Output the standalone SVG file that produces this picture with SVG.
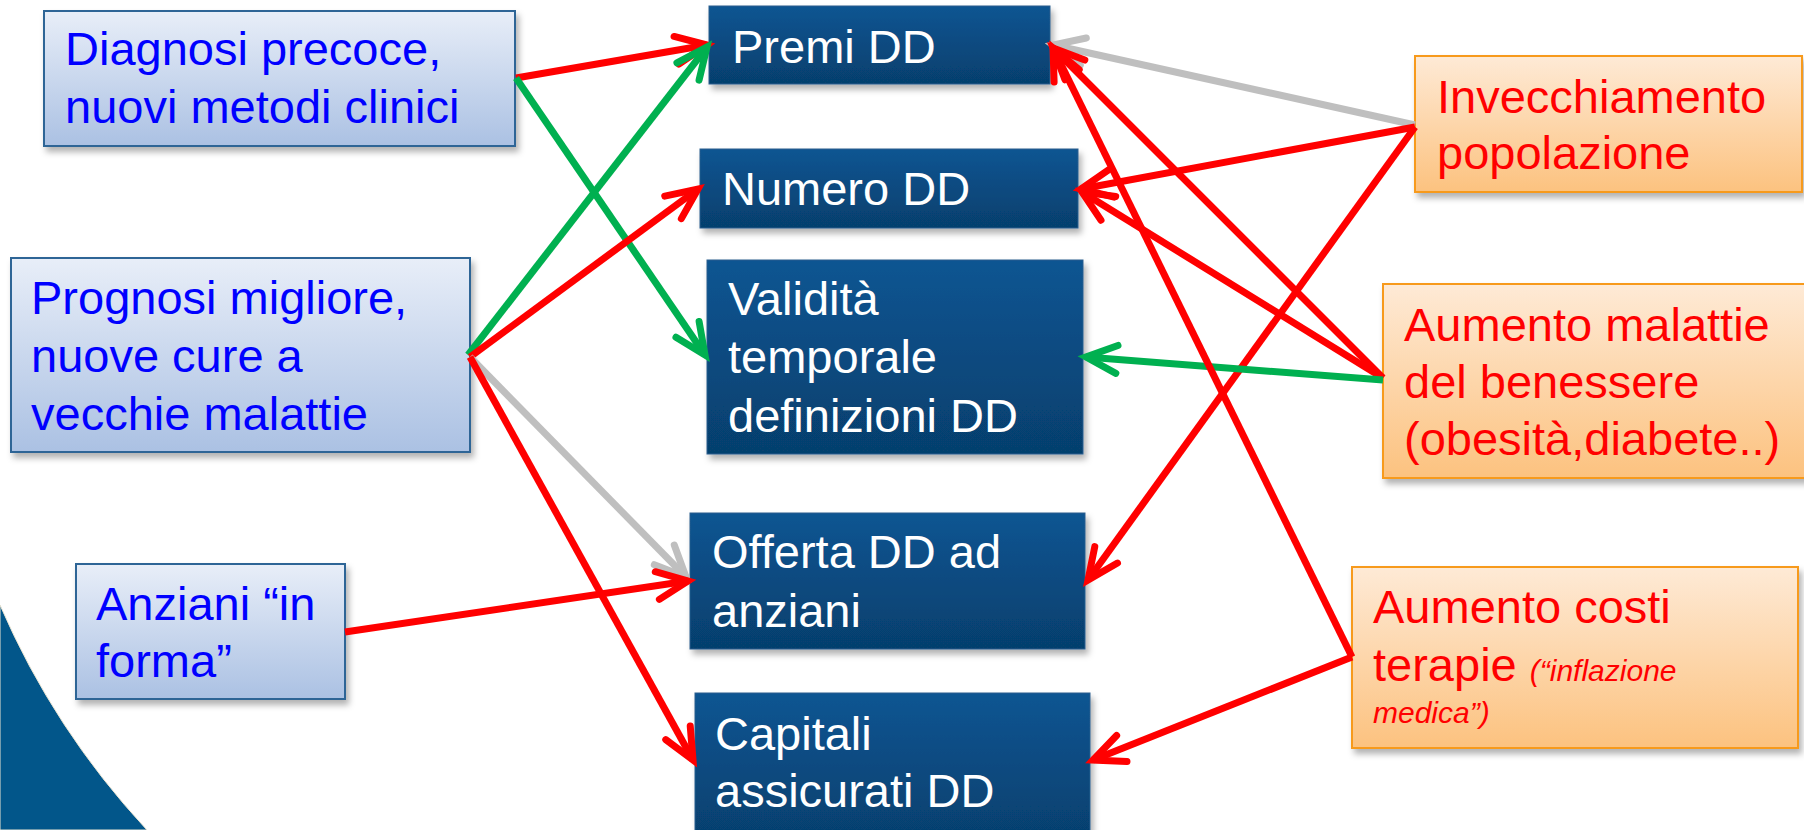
<svg xmlns="http://www.w3.org/2000/svg" width="1804" height="830" viewBox="0 0 1804 830">
<defs>
<linearGradient id="gBlue" x1="0" y1="0" x2="0" y2="1"><stop offset="0" stop-color="#E8EEF8"/><stop offset="1" stop-color="#ABC1E3"/></linearGradient>
<linearGradient id="gDark" x1="0" y1="0" x2="0" y2="1"><stop offset="0" stop-color="#0A5592"/><stop offset="1" stop-color="#063F6D"/></linearGradient>
<linearGradient id="gOrange" x1="0" y1="0" x2="0" y2="1"><stop offset="0" stop-color="#FEEAD6"/><stop offset="1" stop-color="#FCC27F"/></linearGradient>
<filter id="sh" x="-10%" y="-10%" width="125%" height="135%"><feDropShadow dx="3" dy="5" stdDeviation="3" flood-color="#000" flood-opacity="0.3"/></filter>
<marker id="aRed" markerUnits="userSpaceOnUse" markerWidth="80" markerHeight="80" viewBox="-40 -40 80 80" refX="0" refY="0" orient="auto"><path d="M-31,-14 L0,0 L-31,14" fill="none" stroke="#FF0000" stroke-width="7" stroke-linecap="round"/></marker>
<marker id="aGreen" markerUnits="userSpaceOnUse" markerWidth="80" markerHeight="80" viewBox="-40 -40 80 80" refX="0" refY="0" orient="auto"><path d="M-31,-14 L0,0 L-31,14" fill="none" stroke="#00B050" stroke-width="7" stroke-linecap="round"/></marker>
<marker id="aGray" markerUnits="userSpaceOnUse" markerWidth="80" markerHeight="80" viewBox="-40 -40 80 80" refX="0" refY="0" orient="auto"><path d="M-31,-14 L0,0 L-31,14" fill="none" stroke="#BFBFBF" stroke-width="7" stroke-linecap="round"/></marker>
<style>
text{font-family:"Liberation Sans",Arial,sans-serif;font-size:47px}
.lb rect{fill:url(#gBlue);stroke:#2E6596;stroke-width:2;filter:url(#sh)}
.lb text{fill:#0000FF}
.dk rect{fill:url(#gDark);stroke:#2A5F8E;stroke-width:1;filter:url(#sh)}
.dk text{fill:#FFFFFF}
.or rect{fill:url(#gOrange);stroke:#F79A1E;stroke-width:2;filter:url(#sh)}
.or text{fill:#FF0000}
.sm{font-size:30px;font-style:italic}
#connectors line{stroke-width:7;fill:none}
.r{stroke:#FF0000;marker-end:url(#aRed)}
.g{stroke:#00B050;marker-end:url(#aGreen)}
.y{stroke:#BFBFBF;marker-end:url(#aGray)}
</style>
</defs>
<rect width="1804" height="830" fill="#FFFFFF"/>
<path d="M0,605 A790,790 0 0 0 147,830 L0,830 Z" fill="#02568A" stroke="#E9E4D2" stroke-width="1"/>

<g id="diagnosi" class="lb"><rect x="44" y="11" width="471" height="135"/><text x="65" y="65">Diagnosi precoce,</text><text x="65" y="123">nuovi metodi clinici</text></g>
<g id="prognosi" class="lb"><rect x="11" y="258" width="459" height="194"/><text x="31" y="314">Prognosi migliore,</text><text x="31" y="372">nuove cure a</text><text x="31" y="430">vecchie malattie</text></g>
<g id="anziani" class="lb"><rect x="76" y="564" width="269" height="135"/><text x="96" y="620">Anziani “in</text><text x="96" y="677">forma”</text></g>

<g id="premi" class="dk"><rect x="709" y="6" width="341" height="78"/><text x="732" y="63">Premi DD</text></g>
<g id="numero" class="dk"><rect x="700" y="149" width="378" height="79"/><text x="722" y="205">Numero DD</text></g>
<g id="validita" class="dk"><rect x="707" y="260" width="376" height="194"/><text x="728" y="315">Validità</text><text x="728" y="373">temporale</text><text x="728" y="432">definizioni DD</text></g>
<g id="offerta" class="dk"><rect x="690" y="513" width="395" height="136"/><text x="712" y="568">Offerta DD ad</text><text x="712" y="627">anziani</text></g>
<g id="capitali" class="dk"><rect x="695" y="693" width="395" height="150"/><text x="715" y="750">Capitali</text><text x="715" y="807">assicurati DD</text></g>

<g id="invecchiamento" class="or"><rect x="1415" y="56" width="387" height="136"/><text x="1437" y="113">Invecchiamento</text><text x="1437" y="169">popolazione</text></g>
<g id="malattie" class="or"><rect x="1383" y="284" width="430" height="194"/><text x="1404" y="341">Aumento malattie</text><text x="1404" y="398">del benessere</text><text x="1404" y="455">(obesità,diabete..)</text></g>
<g id="costi" class="or"><rect x="1352" y="567" width="446" height="181"/><text x="1373" y="623">Aumento costi</text><text x="1373" y="681">terapie <tspan class="sm">(“inflazione</tspan></text><text x="1373" y="723" class="sm">medica”)</text></g>

<g id="connectors">
<line class="r" x1="516" y1="78" x2="707" y2="45"/>
<line class="g" x1="516" y1="78" x2="705" y2="355"/>
<line class="g" x1="468" y1="355" x2="707" y2="47"/>
<line class="r" x1="470" y1="357" x2="698" y2="189"/>
<line class="y" x1="470" y1="357" x2="686" y2="577"/>
<line class="r" x1="470" y1="357" x2="693" y2="760"/>
<line class="r" x1="345" y1="632" x2="688" y2="581"/>
<line class="y" x1="1415" y1="125" x2="1053" y2="45"/>
<line class="r" x1="1415" y1="127" x2="1081" y2="189"/>
<line class="r" x1="1415" y1="127" x2="1088" y2="580"/>
<line class="r" x1="1383" y1="378" x2="1053" y2="48"/>
<line class="r" x1="1383" y1="378" x2="1082" y2="192"/>
<line class="g" x1="1383" y1="380" x2="1086" y2="357"/>
<line class="r" x1="1352" y1="657" x2="1053" y2="48"/>
<line class="r" x1="1352" y1="657" x2="1093" y2="760"/>
</g>
</svg>
